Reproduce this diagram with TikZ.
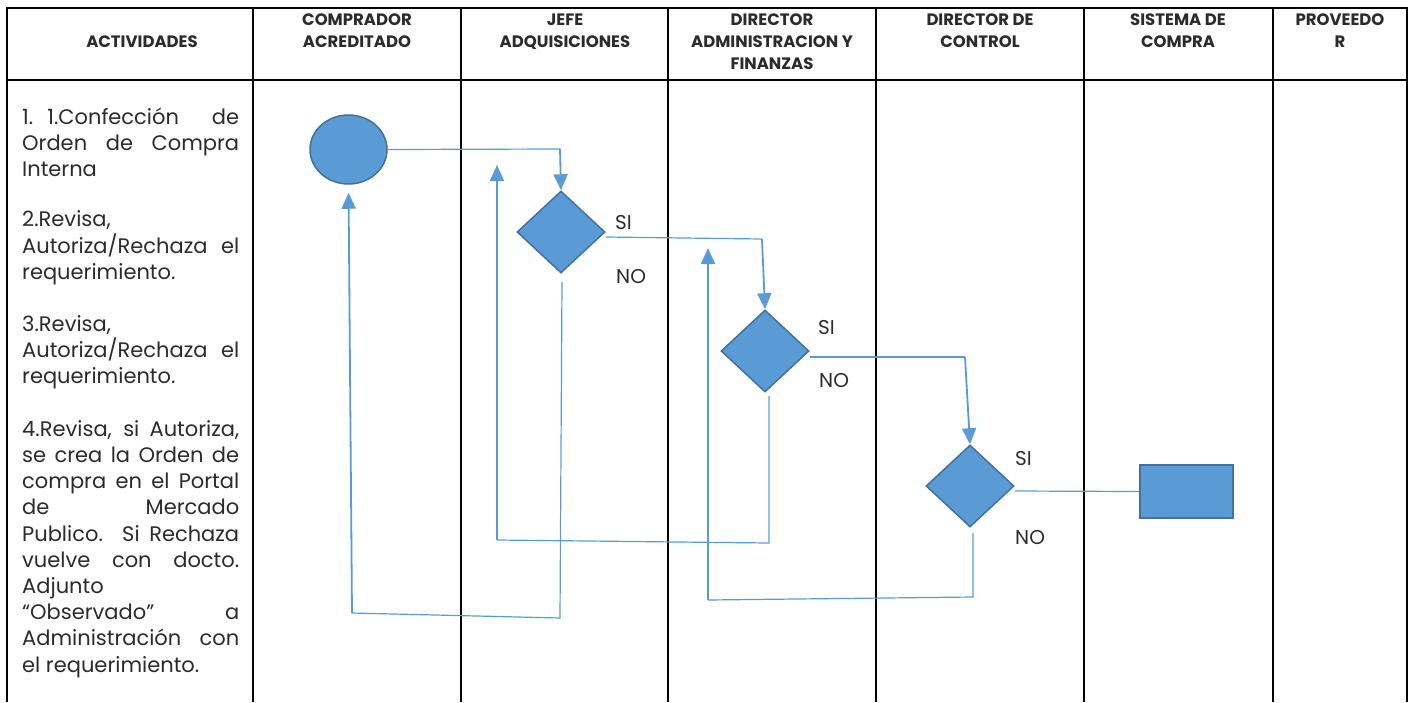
\documentclass[tikz,border=0pt]{standalone}
\usepackage{fontspec}
\setmainfont{Poppins}
\usetikzlibrary{arrows.meta,shapes.geometric,calc}
\definecolor{blu}{HTML}{5B9BD5}
\definecolor{blud}{HTML}{41719C}
\definecolor{txt}{HTML}{2B2B2B}
\begin{document}
\begin{tikzpicture}[x=1pt,y=-1pt,
  grid/.style={line width=2pt,black},
  hd/.style={font=\bfseries\fontsize{16.5}{22}\selectfont,text=txt,inner sep=0pt,anchor=base},
  act/.style={font=\fontsize{21}{26}\selectfont,text=txt,inner sep=0pt,anchor=base west},
  lbl/.style={font=\fontsize{20}{22}\selectfont,text=txt,inner sep=0pt,anchor=base west},
  dec/.style={diamond,draw=blud,fill=blu,line width=1.5pt,minimum width=88pt,minimum height=82pt,inner sep=0pt},
  startnode/.style={ellipse,draw=blud,fill=blu,line width=1.5pt,minimum width=77pt,minimum height=69pt,inner sep=0pt},
  procnode/.style={rectangle,draw=blud,fill=blu,line width=2pt,minimum width=93pt,minimum height=53pt,inner sep=0pt},
  flow/.style={blu,line width=1.2pt},
  arr/.style={blu,line width=1.8pt,-{Triangle[width=14pt,length=16pt]}}
]
\useasboundingbox (0,0) rectangle (1411,702);
% table
\draw[grid] (7,702) -- (7,8) -- (1407,8) -- (1407,702);
\draw[grid] (7,80) -- (1407,80);
\foreach \cx in {253,461,668,876,1084,1273} \draw[grid] (\cx,8) -- (\cx,702);
% headers
\node[hd] (h1) at (142,47.5) {ACTIVIDADES};
\node[hd] (h2a) at (357,25.5) {COMPRADOR};
\node[hd] (h2b) at (357,47.5) {ACREDITADO};
\node[hd] (h3a) at (565,25.5) {JEFE};
\node[hd] (h3b) at (565,47.5) {ADQUISICIONES};
\node[hd] (h4a) at (772,25.5) {DIRECTOR};
\node[hd] (h4b) at (772,47.5) {ADMINISTRACION Y};
\node[hd] (h4c) at (772,69.5) {FINANZAS};
\node[hd] (h5a) at (980,25.5) {DIRECTOR DE};
\node[hd] (h5b) at (980,47.5) {CONTROL};
\node[hd] (h6a) at (1178,25.5) {SISTEMA DE};
\node[hd] (h6b) at (1178,47.5) {COMPRA};
\node[hd] (h7a) at (1340,25.5) {PROVEEDO};
\node[hd] (h7b) at (1340,47.5) {R};
% activities
\newcommand\jl[1]{\makebox[217pt][s]{#1}}
\node[act] (a1) at (22,124) {\makebox[217pt][l]{1.\kern 14pt 1.Confección\hfill de}};
\node[act] (a2) at (22,150) {\jl{Orden de Compra}};
\node[act] (a3) at (22,176) {Interna};
\node[act] (a4) at (22,226) {2.Revisa,};
\node[act] (a5) at (22,253) {\jl{Autoriza/Rechaza el}};
\node[act] (a6) at (22,279) {requerimiento.};
\node[act] (a7) at (22,331) {3.Revisa,};
\node[act] (a8) at (22,357) {\jl{Autoriza/Rechaza el}};
\node[act] (a9) at (22,383) {requerimiento.};
\node[act] (a10) at (22,436) {\jl{4.Revisa, si Autoriza,}};
\node[act] (a11) at (22,462) {\jl{se crea la Orden de}};
\node[act] (a12) at (22,488) {\jl{compra en el Portal}};
\node[act] (a13) at (22,514) {\jl{de Mercado}};
\node[act] (a14) at (22,541) {\jl{Publico. Si Rechaza}};
\node[act] (a15) at (22,567) {\jl{vuelve con docto.}};
\node[act] (a16) at (22,593) {Adjunto};
\node[act] (a17) at (22,619) {\jl{“Observado” a}};
\node[act] (a18) at (22,645) {\jl{Administración con}};
\node[act] (a19) at (22,672) {el requerimiento.};
% shapes
\node[startnode] (c) at (348.5,149.5) {};
\node[dec] (d1) at (561,232) {};
\node[dec] (d2) at (765,351) {};
\node[dec] (d3) at (970,486) {};
\node[procnode] (r) at (1186.5,491.5) {};
% labels
\node[lbl] (si1) at (615,229) {SI};
\node[lbl] (no1) at (616,283) {NO};
\node[lbl] (si2) at (818,334) {SI};
\node[lbl] (no2) at (819,387) {NO};
\node[lbl] (si3) at (1015,465) {SI};
\node[lbl] (no3) at (1015,544) {NO};
% coordinates
\coordinate (k1) at (560,149);
\coordinate (k2) at (762,239);
\coordinate (k3) at (965,357);
\coordinate (e1) at ($(d1.east)+(0,5)$);
\coordinate (e2) at ($(d2.east)+(0,6)$);
\coordinate (e3) at ($(d3.east)+(0,5)$);
\coordinate (n1s) at (562,282);
\coordinate (n1a) at (560,618);
\coordinate (n1b) at (352,613);
\coordinate (n2s) at (769,396);
\coordinate (n2a) at (769,543);
\coordinate (n2b) at (497,540);
\coordinate (n2t) at (497,165);
\coordinate (n3s) at (973,533);
\coordinate (n3a) at (973,597);
\coordinate (n3b) at (708,600);
\coordinate (n3t) at (708,248);
% SI flow
\draw[flow] (c.east) -- (k1);
\draw[arr] (k1) -- (d1.north);
\draw[flow] (e1) -- (k2);
\draw[arr] (k2) -- (d2.north);
\draw[flow] (e2) -- (k3);
\draw[arr] (k3) -- (d3.north);
\draw[flow] (e3) -- (r.west);
% NO flows
\draw[flow] (n1s) -- (n1a) -- (n1b);
\draw[arr,shorten >=8pt] (n1b) -- (c.south);
\draw[flow] (n2s) -- (n2a) -- (n2b);
\draw[arr] (n2b) -- (n2t);
\draw[flow] (n3s) -- (n3a) -- (n3b);
\draw[arr] (n3b) -- (n3t);
\end{tikzpicture}
\end{document}
